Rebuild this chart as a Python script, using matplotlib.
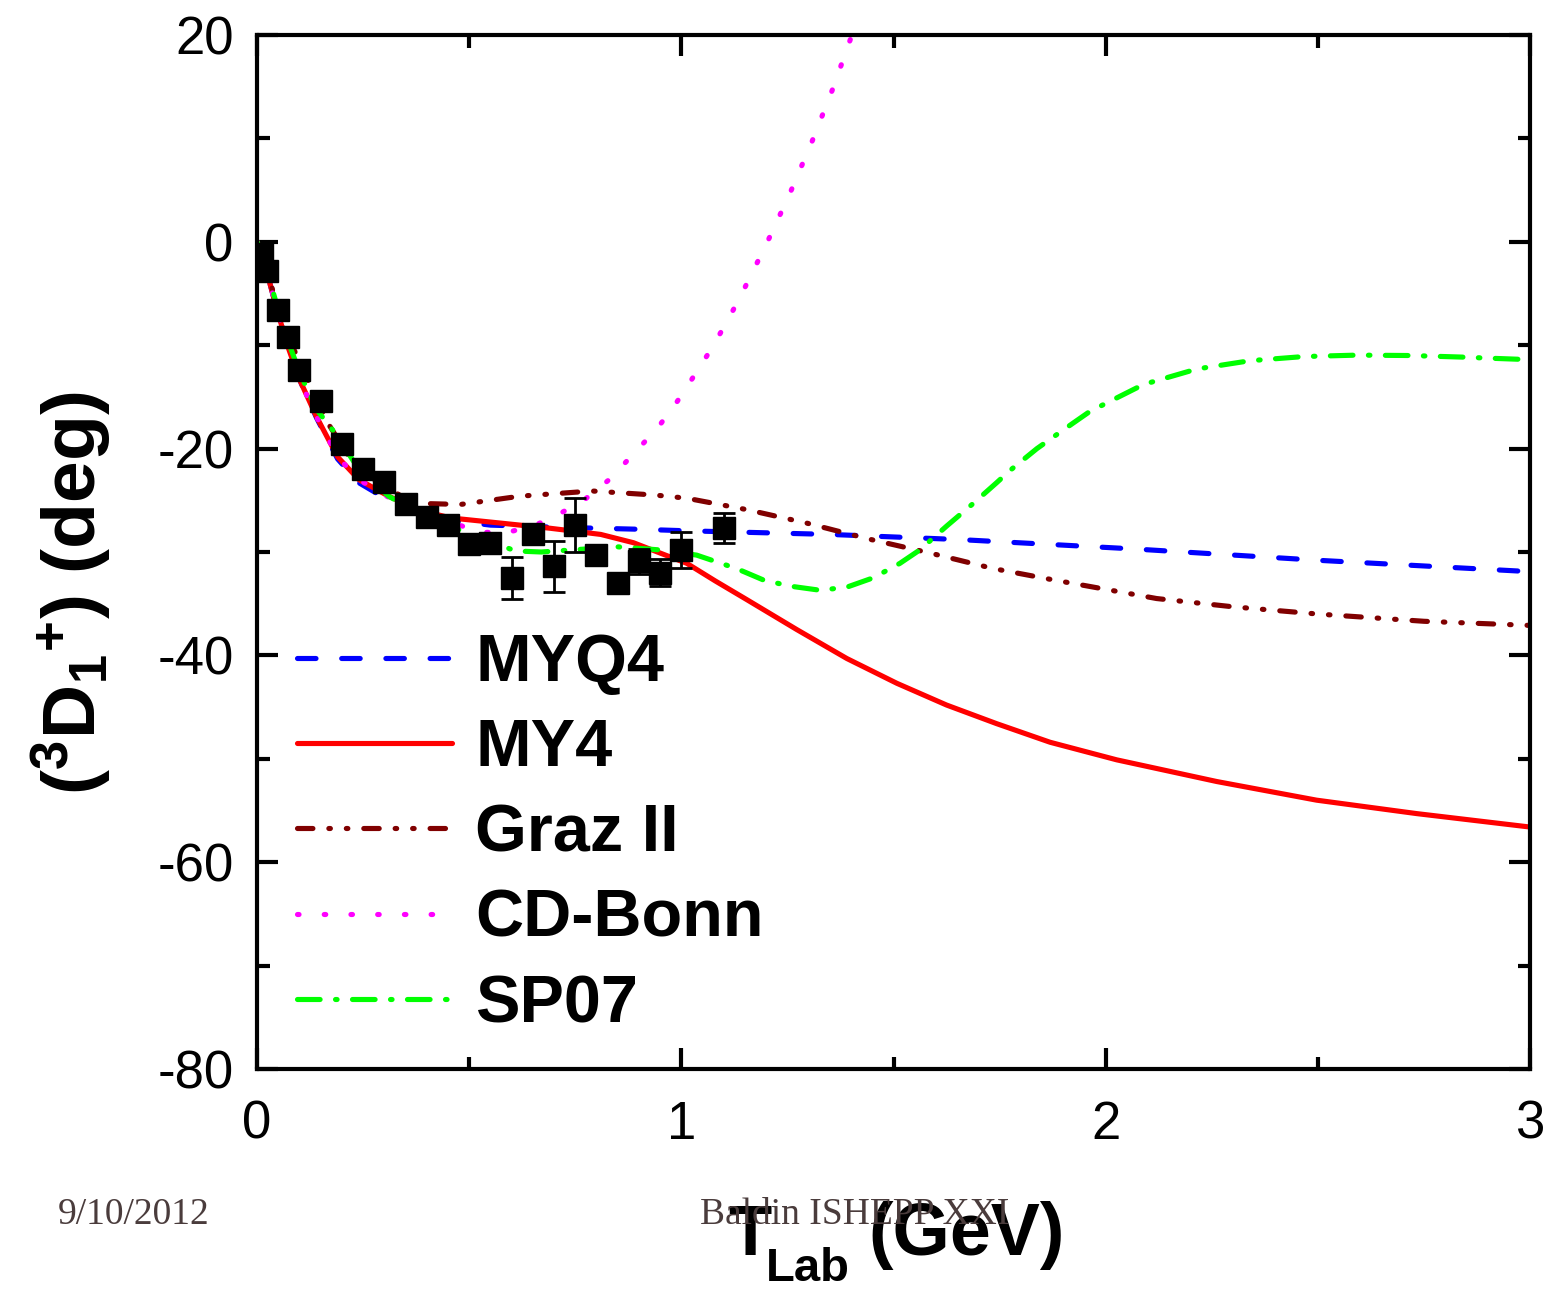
import matplotlib
matplotlib.use("Agg")
import matplotlib.pyplot as plt
import numpy as np

plt.rcParams['font.family'] = ['Liberation Sans', 'DejaVu Sans']
plt.rcParams['mathtext.fontset'] = 'custom'
plt.rcParams['mathtext.rm'] = 'Liberation Sans:bold'
plt.rcParams['mathtext.bf'] = 'Liberation Sans:bold'
plt.rcParams['mathtext.it'] = 'Liberation Sans:bold'

# experimental points (T in GeV, phase in deg), error 0 = no bar drawn
t_exp = np.array([0.012, 0.024, 0.05, 0.074, 0.1, 0.15, 0.2, 0.25, 0.3, 0.35, 0.4, 0.45,
                  0.5, 0.55, 0.6, 0.65, 0.7, 0.75, 0.8, 0.85, 0.9, 0.95, 1.0, 1.1])
d_exp = np.array([-1.2, -2.8, -6.6, -9.2, -12.4, -15.4, -19.6, -22.0, -23.2, -25.4, -26.6, -27.4,
                  -29.2, -29.1, -32.5, -28.3, -31.4, -27.4, -30.3, -33.0, -30.9, -32.0, -29.8, -27.7])
e_exp = np.array([0, 0, 0, 0, 0, 0, 0, 0, 0, 0, 0, 0,
                  0, 0, 2.0, 0, 2.45, 2.6, 0, 0, 1.2, 1.3, 1.7, 1.45])

# MYQ4
t_myq4 = [0, 0.01, 0.025, 0.05, 0.075, 0.1, 0.14, 0.19, 0.24, 0.31, 0.38, 0.45, 0.55,
          0.7, 0.9, 1.013, 1.35, 1.657, 2.065, 2.5, 3.0]
d_myq4 = [0, -1.2, -3.2, -7.0, -10.4, -13.3, -17.0, -21.0, -23.3, -25.0, -26.2, -26.9, -27.4,
          -27.6, -27.8, -27.95, -28.3, -28.8, -29.7, -30.8, -31.9]

# MY4
t_my4 = [0, 0.01, 0.025, 0.05, 0.075, 0.1, 0.14, 0.19, 0.24, 0.31, 0.38, 0.455, 0.573, 0.69,
         0.81, 0.887, 0.95, 1.013, 1.08, 1.154, 1.272, 1.39, 1.508, 1.625, 1.743, 1.869, 2.026,
         2.262, 2.497, 2.733, 3.0]
d_my4 = [0, -1.2, -3.2, -7.0, -10.4, -13.3, -16.9, -20.8, -23.0, -24.6, -25.9, -26.7, -27.2, -27.7,
         -28.3, -29.1, -30.1, -31.1, -32.8, -34.6, -37.5, -40.3, -42.7, -44.8, -46.6, -48.4, -50.1,
         -52.2, -54.0, -55.3, -56.6]

# Graz II
t_graz = [0, 0.01, 0.025, 0.05, 0.075, 0.1, 0.165, 0.22, 0.3, 0.38, 0.48, 0.62, 0.79, 0.94,
          1.013, 1.154, 1.295, 1.437, 1.586, 1.735, 1.877, 2.026, 2.12, 2.3, 2.5, 2.75, 3.0]
d_graz = [0, -1.1, -3.0, -6.5, -9.3, -11.6, -17.4, -21.0, -23.8, -25.3, -25.4, -24.6, -24.1, -24.5,
          -24.8, -25.9, -27.2, -28.7, -30.1, -31.6, -32.7, -33.8, -34.5, -35.3, -36.0, -36.7, -37.1]

# CD-Bonn
t_cdb = [0, 0.01, 0.025, 0.05, 0.075, 0.1, 0.14, 0.19, 0.24, 0.31, 0.38, 0.45, 0.525, 0.59,
         0.65, 0.70, 0.77, 0.83, 0.89, 0.946, 0.991, 1.031, 1.07, 1.105, 1.138, 1.168, 1.199,
         1.255, 1.308, 1.356, 1.402, 1.45]
d_cdb = [0, -1.2, -3.2, -7.0, -10.4, -13.3, -16.9, -20.8, -23.0, -24.7, -26.0, -27.0, -28.1, -28.1,
         -27.5, -26.6, -25.0, -23.0, -20.4, -17.9, -15.4, -12.9, -10.4, -7.9, -5.4, -2.9, -0.35,
         4.6, 9.7, 14.7, 20.0, 25.0]

# SP07
t_sp07 = [0, 0.01, 0.025, 0.05, 0.075, 0.1, 0.14, 0.184, 0.24, 0.31, 0.38, 0.45, 0.52, 0.61,
          0.67, 0.85, 0.95, 1.036, 1.13, 1.193, 1.256, 1.327, 1.39, 1.452, 1.515, 1.562, 1.625,
          1.688, 1.743, 1.775, 1.838, 1.9, 1.963, 2.026, 2.089, 2.215, 2.34, 2.466, 2.592, 2.72,
          2.84, 2.9, 3.0]
d_sp07 = [0, -1.1, -3.0, -6.6, -9.8, -12.6, -16.2, -18.5, -22.0, -24.6, -26.2, -27.4, -28.6, -29.9,
          -30.0, -29.5, -29.8, -30.3, -31.6, -32.7, -33.3, -33.7, -33.4, -32.5, -31.1, -29.8, -27.5,
          -25.3, -23.3, -22.1, -20.0, -18.2, -16.4, -15.1, -13.8, -12.3, -11.5, -11.1, -10.96,
          -11.0, -11.15, -11.25, -11.4]

fig = plt.figure(figsize=(15.48, 12.9), dpi=100)
ax = fig.add_axes([257 / 1548, 1 - 1069 / 1290, (1530 - 257) / 1548, (1069 - 35) / 1290])

lw = 3.7
ax.plot(t_myq4, d_myq4, color='#0000ff', lw=lw, dashes=(3.6, 5.0), dash_capstyle='round',
        label='MYQ4')
ax.plot(t_my4, d_my4, color='#ff0000', lw=lw, solid_capstyle='round', label='MY4')
ax.plot(t_graz, d_graz, color='#800000', lw=lw, dashes=(3.0, 3.1, 0.3, 3.1, 0.3, 3.1),
        dash_capstyle='round', label='Graz II')
ax.plot(t_cdb, d_cdb, color='#ff00ff', lw=lw, dashes=(0.3, 4.9), dash_capstyle='round',
        label='CD-Bonn')
ax.plot(t_sp07, d_sp07, color='#00ff00', lw=lw, dashes=(4.4, 3.0, 0.3, 3.0),
        dash_capstyle='round', label='SP07')

has_err = e_exp > 0
ax.errorbar(t_exp[has_err], d_exp[has_err], yerr=e_exp[has_err], fmt='none', ecolor='black',
            elinewidth=2, capsize=8, capthick=2, zorder=5)
ax.plot(t_exp, d_exp, 's', color='black', ms=16, zorder=6)

ax.set_xlim(0, 3)
ax.set_ylim(-80, 20)
ax.set_xticks([0, 1, 2, 3])
ax.set_xticks([0.5, 1.5, 2.5], minor=True)
ax.set_yticks([-80, -60, -40, -20, 0, 20])
ax.set_yticks(np.arange(-70, 20, 20), minor=True)
ax.set_xticklabels(['0', '1', '2', '3'])
ax.set_yticklabels(['-80', '-60', '-40', '-20', '0', '20'])
ax.tick_params(which='both', direction='in', top=True, right=True, width=3)
ax.tick_params(which='major', length=15, labelsize=38)
ax.tick_params(which='minor', length=9)
ax.tick_params(axis='x', which='major', pad=22)
ax.tick_params(axis='y', which='major', pad=17)
for s in ax.spines.values():
    s.set_linewidth(3)

# y label, placed like the reference (a bit below axis centre)
ax.set_ylabel(r'$(^{3}\mathrm{D}_{1}{}^{+})$ (deg)', fontsize=54, fontweight='bold')
ax.yaxis.set_label_coords(-0.112, 0.46)

# x label built from pieces so the subscript sits low as in the reference
fig.text(728 / 1548, 1 - 1255 / 1290, 'T', fontsize=51, fontweight='bold', va='baseline')
fig.text(766 / 1548, 1 - 1281 / 1290, 'Lab', fontsize=34, fontweight='bold', va='baseline')
fig.text(868 / 1548, 1 - 1255 / 1290, '(GeV)', fontsize=53, fontweight='bold', va='baseline')

ax.legend(loc='upper left', bbox_to_anchor=(0.005, 0.454), frameon=False,
          prop={'weight': 'bold', 'size': 48}, handlelength=2.33, handletextpad=0.35,
          labelspacing=0.35, borderpad=0)

fig.text(58 / 1548, 1 - 1215 / 1290, '9/10/2012', family='Liberation Serif', fontsize=27,
         color='#4a3c3c', va='center', ha='left')
fig.text(855 / 1548, 1 - 1215 / 1290, 'Baldin ISHEPP XXI', family='Liberation Serif', fontsize=27,
         color='#4a3c3c', va='center', ha='center', zorder=10)

fig.savefig('out.png', dpi=100)
